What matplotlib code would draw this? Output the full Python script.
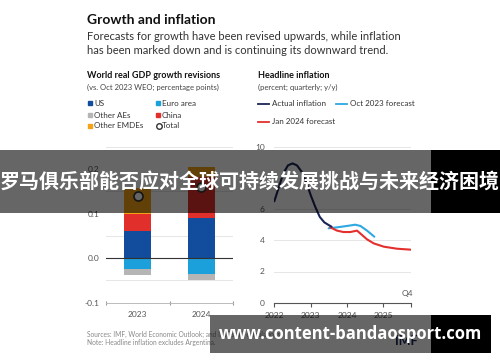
import matplotlib
matplotlib.use('Agg')
import matplotlib.pyplot as plt
import numpy as np
from matplotlib.patches import Rectangle
from matplotlib.lines import Line2D

plt.rcParams['font.family'] = ['Lato', 'DejaVu Sans']

# --> Bar data (revisions vs Oct 2023 WEO, pp)
years = ['2023', '2024']
us = [0.062, 0.091]
china = [0.037, 0.091]
other_emdes = [0.058, 0.024]
euro_area = [-0.025, -0.036]
other_aes = [-0.013, -0.013]
total = [0.140, 0.160]

# --> Inflation data (x in quarters from 2022Q1)
actual_q = [0, 0.5, 1, 1.5, 2, 2.5, 3, 3.5, 4, 4.5, 5, 5.5, 6, 6.3]
actual_v = [6.5, 7.4, 8.3, 8.8, 8.93, 8.8, 8.4, 7.75, 6.9, 6.15, 5.5, 5.15, 4.97, 4.87]
oct_q = [5.97, 6.9, 8.0, 8.9, 9.47, 10.2, 11.0]
oct_v = [4.77, 4.83, 4.92, 5.0, 4.92, 4.62, 4.23]
jan_q = [6.15, 6.9, 7.6, 8.36, 9.1, 9.65, 10.2, 10.94, 12.05, 13.5, 15.0]
jan_v = [4.83, 4.62, 4.53, 4.53, 4.62, 4.34, 4.06, 3.8, 3.59, 3.46, 3.4]
year_ticks = [0, 4, 8, 12]
year_labels = ['2022', '2023', '2024', '2025']

c_us = '#124c9c'
c_euro = '#1ca0dc'
c_aes = '#b5b5b5'
c_china = '#e1302b'
c_emde = '#f5a316'
c_actual = '#1b2554'
c_oct = '#2ea8e0'
c_jan = '#e3302d'
tick_col = '#555555'

fig = plt.figure(figsize=(5, 3.62), dpi=100)
W, H = 500.0, 362.0
def fx(x): return x / W
def fy(y): return 1 - y / H

# Headings
fig.text(fx(87), fy(20), 'Growth and inflation', fontsize=10, fontweight='bold', color='#111111', va='center')
fig.text(fx(87), fy(36), 'Forecasts for growth have been revised upwards, while inflation', fontsize=8, color='#333333', va='center')
fig.text(fx(87), fy(51), 'has been marked down and is continuing its downward trend.', fontsize=8, color='#333333', va='center')

fig.text(fx(87), fy(76), 'World real GDP growth revisions', fontsize=6.5, fontweight='bold', color='#111111', va='center')
fig.text(fx(87), fy(87), '(vs. Oct 2023 WEO; percentage points)', fontsize=5.5, color='#444444', va='center')
fig.text(fx(258), fy(76), 'Headline inflation', fontsize=6.5, fontweight='bold', color='#111111', va='center')
fig.text(fx(258), fy(87), '(percent; quarterly; y/y)', fontsize=5.5, color='#444444', va='center')

# Bar legend (manual)
bar_leg = [('US', c_us, 88, 103), ('Euro area', c_euro, 156, 103),
           ('Other AEs', c_aes, 88, 115), ('China', c_china, 156, 115),
           ('Other EMDEs', c_emde, 88, 126)]
for lab, col, x, y in bar_leg:
    fig.patches.append(Rectangle((fx(x), fy(y + 2)), fx(4), 4.0 / H, color=col, transform=fig.transFigure, figure=fig))
    fig.text(fx(x + 6), fy(y), lab, fontsize=5.8, color='#333333', va='center')
fig.lines.append(Line2D([fx(158.5)], [fy(126)], marker='o', markersize=4, markerfacecolor='white',
                        markeredgecolor='#333333', markeredgewidth=1, transform=fig.transFigure, figure=fig))
fig.text(fx(162), fy(126), 'Total', fontsize=5.8, color='#333333', va='center')

# Line legend
line_leg = [('Actual inflation', c_actual, 258, 104), ('Oct 2023 forecast', c_oct, 336, 104),
            ('Jan 2024 forecast', c_jan, 258, 122)]
for lab, col, x, y in line_leg:
    fig.lines.append(Line2D([fx(x), fx(x + 11)], [fy(y), fy(y)], color=col, lw=1.3, transform=fig.transFigure, figure=fig))
    fig.text(fx(x + 14), fy(y), lab, fontsize=5.8, color='#333333', va='center')

# --> Bar chart
ax1 = fig.add_axes([fx(106), fy(302.7), fx(233) - fx(106), fy(147) - fy(302.7)])
xpos = np.arange(len(years))
bw = 0.43
ax1.bar(xpos, us, bw, color=c_us, zorder=3)
ax1.bar(xpos, china, bw, bottom=us, color=c_china, zorder=3)
ax1.bar(xpos, other_emdes, bw, bottom=np.add(us, china), color=c_emde, zorder=3)
ax1.bar(xpos, euro_area, bw, color=c_euro, zorder=3)
ax1.bar(xpos, other_aes, bw, bottom=euro_area, color=c_aes, zorder=3)
ax1.plot(xpos, total, 'o', markersize=6.5, markerfacecolor='white', markeredgecolor='#333333', markeredgewidth=1.2, zorder=5)
ax1.axhline(0, color='#333333', lw=0.8, zorder=4)
ax1.set_xlim(-0.5, 1.5)
ax1.set_ylim(-0.1, 0.25)
ax1.set_yticks([-0.1, 0.0, 0.1, 0.2])
ax1.set_yticklabels(['-0.1', '0.0', '0.1', '0.2'])
ax1.set_yticks(np.arange(-0.05, 0.26, 0.05), minor=True)
ax1.yaxis.grid(True, which='minor', color='#e6e6e6', lw=0.7, zorder=0)
ax1.tick_params(axis='y', which='both', length=0, labelsize=6, labelcolor=tick_col, pad=5)
ax1.set_xticks([-0.5, 0.5, 1.5])
ax1.set_xticklabels(['', '', ''])
ax1.set_xticks(xpos, minor=True)
ax1.set_xticklabels(years, minor=True)
ax1.tick_params(axis='x', which='major', length=3, direction='inout', color='#999999')
ax1.tick_params(axis='x', which='minor', length=0, labelsize=6, labelcolor=tick_col, pad=6)
for s in ['top', 'right', 'left']:
    ax1.spines[s].set_visible(False)
ax1.spines['bottom'].set_color('#bbbbbb')
ax1.spines['bottom'].set_linewidth(0.7)

# --> Inflation chart
ax2 = fig.add_axes([fx(274.3), fy(302.7), fx(410.7) - fx(274.3), fy(146.7) - fy(302.7)])
ax2.plot(actual_q, actual_v, color=c_actual, lw=1.5, zorder=4, solid_capstyle='round')
ax2.plot(oct_q, oct_v, color=c_oct, lw=1.5, zorder=3, solid_capstyle='round')
ax2.plot(jan_q, jan_v, color=c_jan, lw=1.5, zorder=3, solid_capstyle='round')
ax2.set_xlim(0, 15)
ax2.set_ylim(0, 10)
ax2.set_yticks([0, 2, 4, 6, 8, 10])
ax2.yaxis.grid(True, color='#e6e6e6', lw=0.7, zorder=0)
ax2.tick_params(axis='y', length=0, labelsize=6, labelcolor=tick_col, pad=7)
ax2.set_xticks(year_ticks + [15])
ax2.set_xticklabels(year_labels + [''])
ax2.tick_params(axis='x', length=3, direction='out', color='#555555', labelsize=6, labelcolor=tick_col, pad=4)
for s in ['top', 'right', 'left']:
    ax2.spines[s].set_visible(False)
ax2.spines['bottom'].set_color('#555555')
ax2.spines['bottom'].set_linewidth(0.8)
ax2.text(15.3, 0.35, 'Q4', fontsize=6, color=tick_col, ha='right', va='bottom')

# Footnotes
fig.text(fx(87), fy(334), 'Sources: IMF, World Economic Outlook; and IMF staff calculations.', fontsize=4.8, color='#888888', va='center')
fig.text(fx(87), fy(343), 'Note: Headline inflation excludes Argentina.', fontsize=4.8, color='#888888', va='center')
fig.text(fx(395), fy(341), 'IMF', fontsize=9, fontweight='bold', color='#1b2a5b', va='center', zorder=5)

# Overlay banners
for (x0, x1, y0, y1, col, a) in [(0, 431, 150, 213, 'black', 0.6), (431, 500, 150, 213, 'black', 1.0),
                                 (210, 431, 315, 352.7, 'black', 0.6), (431, 491, 315, 352.7, 'black', 1.0)]:
    fig.patches.append(Rectangle((fx(x0), fy(y1)), fx(x1) - fx(x0), fy(y0) - fy(y1), facecolor=col, alpha=a,
                                 edgecolor='none', transform=fig.transFigure, figure=fig, zorder=10))
fig.text(fx(250), fy(181), '罗马俱乐部能否应对全球可持续发展挑战与未来经济困境', fontsize=14.4, fontweight='bold',
         color='white', ha='center', va='center', family=['Noto Sans CJK SC', 'DejaVu Sans'], zorder=11)
fig.text(fx(350), fy(334), 'www.content-bandaosport.com', fontsize=12, fontweight='bold',
         color='white', ha='center', va='center', family=['Open Sans', 'DejaVu Sans'], zorder=11)

plt.savefig('out.png', dpi=100)
